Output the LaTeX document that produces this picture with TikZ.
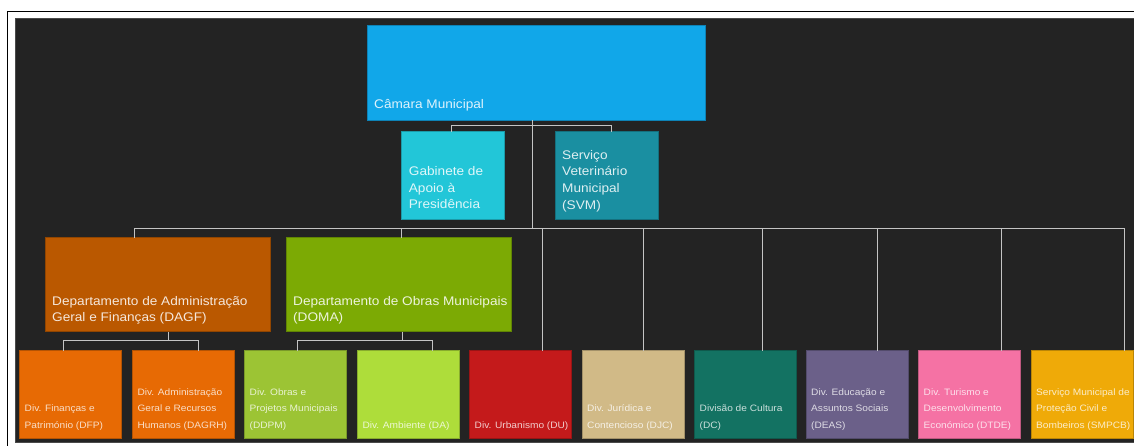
\documentclass[tikz,border=0pt]{standalone}
\usepackage{fontspec}
\setmainfont{Liberation Sans}
\newfontfamily\chartfont[FakeStretch=1.09]{Liberation Sans}
\usetikzlibrary{calc}

\definecolor{bg}{HTML}{232323}
\definecolor{bgedge}{HTML}{4A4A4A}
\definecolor{linkgray}{HTML}{C4C4C4}
\definecolor{cCam}{HTML}{11A7E9}
\definecolor{cGab}{HTML}{22C6D8}
\definecolor{cSvm}{HTML}{1A8FA1}
\definecolor{cDagf}{HTML}{BA5800}
\definecolor{cDoma}{HTML}{7CAA04}
\definecolor{cDfp}{HTML}{E76A04}
\definecolor{cDdpm}{HTML}{9CC434}
\definecolor{cDa}{HTML}{AEDD3A}
\definecolor{cDu}{HTML}{C41A1B}
\definecolor{cDjc}{HTML}{D1BA87}
\definecolor{cDc}{HTML}{137262}
\definecolor{cDeas}{HTML}{6B6089}
\definecolor{cDtde}{HTML}{F572A4}
\definecolor{cSmpcb}{HTML}{EFAA08}

% lines stacked upwards from the baseline of the last one
\newcommand\linestack[1]{\parbox[b]{220pt}{\raggedright #1}}

\tikzset{
  unitbox/.style={rectangle, inner sep=0pt, outer sep=0pt, anchor=north west,
    fill=#1, draw=#1!78!black, line width=0.8pt},
  topbox/.style={unitbox=#1, minimum width=338pt, minimum height=95pt},
  staffbox/.style={unitbox=#1, minimum width=102.5pt, minimum height=87.5pt},
  deptbox/.style={unitbox=#1, minimum width=225.7pt, minimum height=94pt},
  divbox/.style={unitbox=#1, minimum width=102pt, minimum height=87.6pt},
  bigtext/.style={anchor=base west, inner sep=0pt, text=white, text opacity=0.86,
    font=\chartfont\fontsize{12.5}{16.6}\selectfont},
  smalltext/.style={anchor=base west, inner sep=0pt, text=white, text opacity=0.78,
    font=\chartfont\fontsize{9.3}{16.5}\selectfont},
  link/.style={draw=linkgray, line width=1pt},
}

\begin{document}
\begin{tikzpicture}[x=1pt, y=-1pt]
\useasboundingbox (0,0) rectangle (1134,446);

% page frame and dark canvas
\fill[bg] (15,19) rectangle (1134,442);
\draw[bgedge, line width=1pt] (15,442) -- (15,19) -- (1134,19);
\draw[bgedge, line width=1pt] (15,442) -- (1134,442);
\draw[black, line width=1.6pt] (7.3,446) -- (7.3,11.6) -- (1134,11.6);

% boxes
\node[topbox=cCam] (cam) at (367,25) {};
\node[staffbox=cGab] (gab) at (401.7,131.7) {};
\node[staffbox=cSvm] (svm) at (555.5,131.7) {};
\node[deptbox=cDagf] (dagf) at (45,237.7) {};
\node[deptbox=cDoma] (doma) at (286,237.7) {};
\node[divbox=cDfp]   (dfp)   at (19.5,350.7) {};
\node[divbox=cDfp]   (dagrh) at (132.3,350.7) {};
\node[divbox=cDdpm]  (ddpm)  at (244.5,350.7) {};
\node[divbox=cDa]    (da)    at (357.3,350.7) {};
\node[divbox=cDu]    (du)    at (469.5,350.7) {};
\node[divbox=cDjc]   (djc)   at (582,350.7) {};
\node[divbox=cDc]    (dc)    at (694.5,350.7) {};
\node[divbox=cDeas]  (deas)  at (806,350.7) {};
\node[divbox=cDtde]  (dtde)  at (918.5,350.7) {};
\node[divbox=cSmpcb] (smpcb) at (1031,350.7) {};

% labels
\node[bigtext] (cam-t) at ($(cam.south west)+(7pt,11pt)$) {Câmara Municipal};
\node[bigtext] (gab-t) at ($(gab.south west)+(7pt,10.3pt)$) {\linestack{Gabinete de\\Apoio à\\Presidência}};
\node[bigtext] (svm-t) at ($(svm.south west)+(6.5pt,10pt)$) {\linestack{Serviço\\Veterinário\\Municipal\\(SVM)}};
\node[bigtext] (dagf-t) at ($(dagf.south west)+(7pt,10pt)$) {\linestack{Departamento de Administração\\Geral e Finanças (DAGF)}};
\node[bigtext] (doma-t) at ($(doma.south west)+(7pt,10pt)$) {\linestack{Departamento de Obras Municipais\\(DOMA)}};

\node[smalltext] (dfp-t) at ($(dfp.south west)+(5pt,10pt)$) {\linestack{Div. Finanças e\\Património (DFP)}};
\node[smalltext] (dagrh-t) at ($(dagrh.south west)+(5pt,10pt)$) {\linestack{Div. Administração\\Geral e Recursos\\Humanos (DAGRH)}};
\node[smalltext] (ddpm-t) at ($(ddpm.south west)+(5pt,10pt)$) {\linestack{Div. Obras e\\Projetos Municipais\\(DDPM)}};
\node[smalltext] (da-t) at ($(da.south west)+(5pt,10pt)$) {Div. Ambiente (DA)};
\node[smalltext] (du-t) at ($(du.south west)+(5pt,10pt)$) {Div. Urbanismo (DU)};
\node[smalltext] (djc-t) at ($(djc.south west)+(5pt,10pt)$) {\linestack{Div. Jurídica e\\Contencioso (DJC)}};
\node[smalltext] (dc-t) at ($(dc.south west)+(5pt,10pt)$) {\linestack{Divisão de Cultura\\(DC)}};
\node[smalltext] (deas-t) at ($(deas.south west)+(5pt,10pt)$) {\linestack{Div. Educação e\\Assuntos Sociais\\(DEAS)}};
\node[smalltext] (dtde-t) at ($(dtde.south west)+(5pt,10pt)$) {\linestack{Div. Turismo e\\Desenvolvimento\\Económico (DTDE)}};
\node[smalltext] (smpcb-t) at ($(smpcb.south west)+(5pt,10pt)$) {\linestack{Serviço Municipal de\\Proteção Civil e\\Bombeiros (SMPCB)}};

% connector points
\coordinate (trunk) at (532.3,228.7);
\coordinate (gL) at (451.7,125.7);
\coordinate (gR) at (611,125.7);
\foreach \n/\x in {dagf/134, doma/401, du/542.5, djc/643.5, dc/762.7,
                   deas/877.5, dtde/1001.7, smpcb/1124.6}
  \coordinate (d-\n) at (\x,228.7);
\coordinate (aS) at (168.3,340.3);
\coordinate (aL) at (63.3,340.3);
\coordinate (aR) at (198.7,340.3);
\coordinate (oS) at (402.3,340.3);
\coordinate (oL) at (297.7,340.3);
\coordinate (oR) at (432.3,340.3);

% connectors
\draw[link] (trunk |- cam.south) -- (trunk);
\draw[link] (gab.north -| gL) -- (gL) -- (gR) -- (gR |- svm.north);
\draw[link] (d-dagf) -- (d-smpcb);
\foreach \n in {dagf, doma, du, djc, dc, deas, dtde, smpcb}
  \draw[link] (d-\n) -- (d-\n |- \n.north);
\draw[link] (aS |- dagf.south) -- (aS);
\draw[link] (dfp.north -| aL) -- (aL) -- (aR) -- (aR |- dagrh.north);
\draw[link] (oS |- doma.south) -- (oS);
\draw[link] (ddpm.north -| oL) -- (oL) -- (oR) -- (oR |- da.north);
\end{tikzpicture}
\end{document}
